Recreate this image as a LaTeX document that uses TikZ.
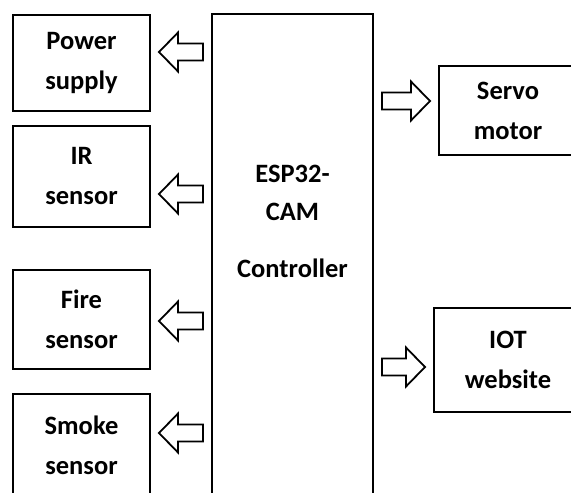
\documentclass[tikz,border=0pt]{standalone}
\usepackage{fontspec}
\setmainfont{Carlito}
\usetikzlibrary{positioning}
\usetikzlibrary{calc}

\tikzset{
	unit/.style={draw,rectangle,line width=2pt,minimum width=137pt,align=center,font=\bfseries\fontsize{26.5}{40}\selectfont},
	blockarr/.style={draw,line width=1.8pt,fill=white,
		to path={let \p1=(\tikztostart), \p2=(\tikztotarget), \n1={ifthenelse(\x2>\x1,1,-1)} in
			(\x1+8*\n1,\y2+8.5) -- (\x2-27*\n1,\y2+8.5) -- (\x2-27*\n1,\y2+19.5) -- (\x2-8*\n1,\y2)
			-- (\x2-27*\n1,\y2-19.5) -- (\x2-27*\n1,\y2-8.5) -- (\x1+8*\n1,\y2-8.5) -- cycle}}
}

\begin{document}
\begin{tikzpicture}[x=1pt,y=-1pt,node distance=13pt]
		\useasboundingbox (0,0) rectangle (571,493);
		\clip (0,0) rectangle (571,493);
		\node (ctrl) [draw,rectangle,line width=2pt,minimum width=161pt,minimum height=530pt,anchor=north] at (292.5,13) {};
		\node (ctrltxt) [align=center,font=\bfseries\fontsize{26.5}{38}\selectfont] at ([yshift=-208pt]ctrl.north) {ESP32-\\CAM\\[19pt]Controller};
		\node (pwr) [unit,minimum height=96pt] at (81.5,63) {Power\\supply};
		\node (ir) [unit,minimum height=101pt,below=of pwr] {IR\\sensor};
		\node (fire) [unit,minimum height=99pt,below=41pt of ir] {Fire\\sensor};
		\node (smoke) [unit,minimum height=103pt,below=23pt of fire] {Smoke\\sensor};
		\node (servo) [unit,minimum width=138pt,minimum height=89pt] at (508,110.5) {Servo\\motor};
		\node (iot) [unit,minimum width=148pt,minimum height=104pt] at (508,360) {IOT\\website};
		\draw (ctrl.west) edge[blockarr] ([yshift=11pt]pwr.east);
		\draw (ctrl.west) edge[blockarr] ([yshift=-17.5pt]ir.east);
		\draw (ctrl.west) edge[blockarr] ([yshift=-1.5pt]fire.east);
		\draw (ctrl.west) edge[blockarr] ([yshift=12.5pt]smoke.east);
		\draw (ctrl.east) edge[blockarr] ([yshift=9.5pt]servo.west);
		\draw (ctrl.east) edge[blockarr] ([yshift=-7pt]iot.west);
	\end{tikzpicture}
\end{document}
